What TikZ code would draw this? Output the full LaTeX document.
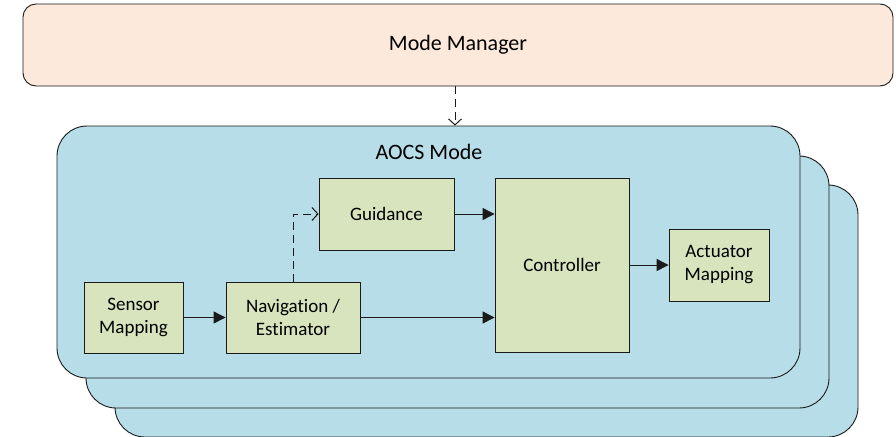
\documentclass[tikz,border=0pt]{standalone}
\usepackage{fontspec}
\setmainfont{Carlito}[RawFeature={-liga,-dlig}]
\usetikzlibrary{arrows.meta}

\definecolor{mgrfill}{HTML}{FCE9DB}
\definecolor{modefill}{HTML}{B7DDE8}
\definecolor{blockfill}{HTML}{D7E4BD}
\definecolor{edge}{HTML}{1A1A1A}

\tikzset{
  managerbox/.style={draw=edge, line width=0.9pt, fill=mgrfill, rounded corners=13pt,
    minimum width=870pt, minimum height=82pt, inner sep=0pt, font=\fontsize{22}{26}\selectfont},
  modebox/.style={draw=edge, line width=0.9pt, fill=modefill, rounded corners=30pt,
    minimum width=743pt, minimum height=252pt, inner sep=0pt},
  blockbox/.style={draw=edge, line width=0.8pt, fill=blockfill, inner sep=0pt, align=center,
    font=\fontsize{19}{23}\selectfont},
  flow/.style={draw=edge, line width=0.9pt, -{Triangle[length=12pt,width=12pt]}},
  cmdflow/.style={draw=edge, line width=0.9pt, dash pattern=on 8pt off 5pt,
    -{Straight Barb[length=6pt,width=13pt,line width=1pt]}},
}

\begin{document}
\begin{tikzpicture}[x=1pt, y=-1pt]
  \useasboundingbox (0,0) rectangle (896,436);

  % manager on top
  \node[managerbox] (mm) at (458,45) {Mode Manager};

  % stack of mode layers, back to front
  \node[modebox] (aocs3) at (486.5,311) {};
  \node[modebox] (aocs2) at (457.5,282) {};
  \node[modebox] (aocs)  at (428.5,252) {};
  \node[font=\fontsize{22}{26}\selectfont] (aocslabel) at (429,152) {AOCS Mode};

  % processing blocks
  \node[blockbox, minimum width=99pt,  minimum height=71pt]  (sens) at (133.5,317.5) {Sensor\\Mapping};
  \node[blockbox, minimum width=134pt, minimum height=71pt]  (nav)  at (293,317.5)   {Navigation /\\Estimator};
  \node[blockbox, minimum width=135pt, minimum height=72pt]  (guid) at (386.5,214)   {Guidance};
  \node[blockbox, minimum width=134pt, minimum height=174pt] (ctrl) at (562,265)     {Controller};
  \node[blockbox, minimum width=100pt, minimum height=72pt]  (act)  at (719,265)     {Actuator\\Mapping};

  % mode command
  \draw[cmdflow] ([xshift=-3pt]mm.south) -- ([xshift=-3pt]mm.south |- aocs.north);

  % data flow
  \draw[flow] (sens.east) -- (nav.west);
  \draw[cmdflow] (nav.north) -- (nav.north |- guid.west) -- (guid.west);
  \draw[flow] (guid.east) -- (guid.east -| ctrl.west);
  \draw[flow] (nav.east) -- (nav.east -| ctrl.west);
  \draw[flow] (ctrl.east) -- (act.west);
\end{tikzpicture}
\end{document}
